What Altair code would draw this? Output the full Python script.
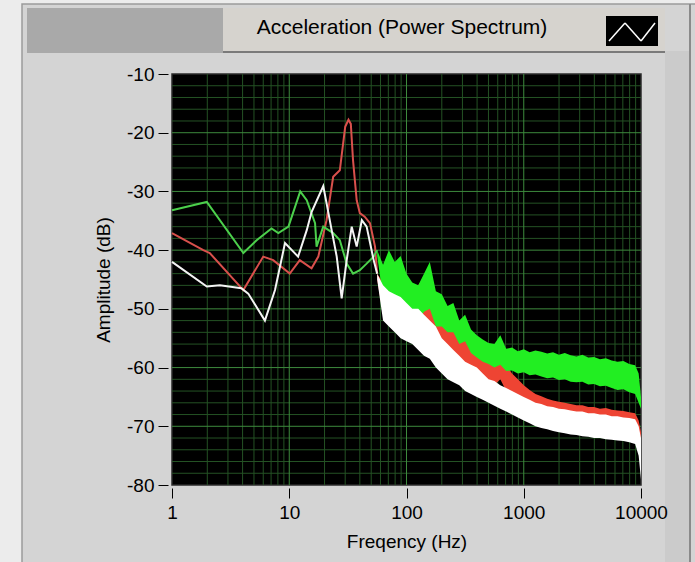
import altair as alt
import pandas as pd

# ---------------- data ----------------
# low-frequency part of each trace (Hz, dB)
green_f = [1, 1.98, 4.06, 5.27, 7.06, 8.07, 9.85, 12.4, 14.1, 16.6, 17.1, 19.5, 23.7, 27, 30.9, 35, 40, 45.7, 52.5, 56.2]
green_db = [-33.2, -31.8, -40.5, -38.3, -36.3, -37.1, -36.0, -30.0, -31.5, -35.4, -39.4, -36.0, -37.1, -38.3, -42.3, -44.0, -43.4, -42.3, -41.1, -40.0]

red_f = [1, 1.85, 2.1, 4.06, 6.0, 7.3, 10.1, 12.3, 15.5, 17.7, 20.8, 23.7, 27, 30, 32, 33.5, 35, 37.6, 40, 44, 48.8, 53.9, 56.2]
red_db = [-37.1, -40.0, -40.5, -46.8, -41.1, -41.7, -44.0, -41.7, -43.1, -41.1, -34.9, -27.5, -26.4, -19.0, -17.8, -18.5, -24.7, -31.5, -33.7, -34.3, -35.4, -39.4, -44.0]

white_f = [1, 1.98, 2.56, 3.9, 4.47, 6.2, 7.56, 9.2, 11.9, 14.1, 15.5, 19.5, 20.8, 23, 25.4, 28, 30.9, 34.1, 37.6, 41.6, 45.7, 52.5, 56.2]
white_db = [-42.0, -46.2, -46.0, -46.5, -47.4, -52.0, -46.8, -38.8, -41.1, -36.6, -33.5, -29.1, -32.0, -36.6, -41.1, -48.2, -41.7, -36.0, -39.4, -34.9, -36.0, -41.7, -44.0]

# high-frequency noisy part: upper / lower envelope of each band (dB)
band_f = [56.2, 63.1, 70.8, 79.4, 89.1, 100, 112, 126, 141, 158, 178, 200, 224, 251, 282,
          316, 355, 398, 447, 501, 562, 631, 708, 794, 891, 1000, 1122, 1259, 1413, 1585,
          1778, 1995, 2239, 2512, 2818, 3162, 3548, 3981, 4467, 5012, 5623, 6310, 7079, 7943,
          8913, 9550, 10000]

green_hi = [-40, -42.5, -40, -42, -41, -44, -45.5, -46, -44, -42, -47, -47.5, -49.5, -49, -52,
            -51, -53.5, -54.5, -55.2, -55.8, -56, -54.5, -56.8, -56.6, -57.2, -56.9, -57.4, -57.1, -57.3, -57.6,
            -57.4, -57.8, -57.5, -57.9, -58.1, -57.8, -58.3, -58.2, -58.6, -58.4, -58.8, -59, -58.9, -59.4,
            -59.6, -61, -65]
green_lo = [-41, -48, -47, -49, -48.5, -51, -51.5, -52, -50.5, -50, -53, -53, -54, -54, -56,
            -55.5, -57.5, -58.3, -59, -59.4, -60, -59.5, -60.6, -60.5, -61, -60.8, -61.3, -61.2, -61.5, -61.8,
            -61.7, -62.1, -62, -62.4, -62.5, -62.4, -62.9, -62.8, -63.2, -63.1, -63.5, -63.8, -63.7, -64.2,
            -64.5, -66, -67]

red_hi = [-44, -45.5, -45, -46.5, -46, -47, -46.5, -46, -44.5, -42.5, -48, -50, -51, -53, -52.5,
          -54, -55, -56, -57.5, -58, -57, -54.7, -59.5, -61, -62, -63, -63.8, -64.5, -64.9, -65.3,
          -65.6, -65.8, -66, -66.2, -66.4, -66.4, -66.7, -66.7, -67, -66.9, -67.2, -67.3, -67.4, -67.6,
          -67.8, -69, -71]
red_lo = [-45, -51, -52, -52, -53, -53, -54, -53, -52, -53, -55, -57, -58, -59, -60,
          -60, -61, -62, -62.5, -63, -63, -62, -64, -65, -65.5, -66, -67, -67.5, -68, -68,
          -68.5, -68.5, -69, -69, -69, -69, -69.5, -69.5, -69.5, -70, -70, -70, -70, -70,
          -70.5, -72, -74]

white_hi = [-44, -46, -47, -47.5, -48, -49, -50, -50, -51, -52, -53, -55, -56, -57, -58,
            -59, -59.5, -60, -61, -62, -62.3, -63, -63.5, -64, -64.5, -65, -65.5, -66, -66.2, -66.6,
            -66.7, -67, -67.1, -67.3, -67.5, -67.5, -67.8, -67.8, -68, -68, -68.3, -68.3, -68.5, -68.6,
            -68.8, -70, -72]
white_lo = [-45, -52, -53, -54, -55, -55.5, -56, -57, -58, -58.5, -60, -61, -62, -62.5, -63,
            -64, -64.5, -65, -65.5, -66, -66.5, -67, -67.5, -68, -68.5, -69, -69.5, -70, -70.3, -70.5,
            -70.8, -71, -71.2, -71.4, -71.5, -71.7, -71.8, -72, -72, -72.2, -72.3, -72.4, -72.5, -72.7,
            -73, -75, -79]

# grid and tick values
x_ticks = [1, 10, 100, 1000, 10000]
x_grid_major = [10, 100, 1000]
x_grid_minor = [2, 3, 4, 5, 6, 7, 8, 9, 20, 30, 40, 50, 60, 70, 80, 90,
                200, 300, 400, 500, 600, 700, 800, 900, 2000, 3000, 4000, 5000, 6000, 7000, 8000, 9000]
y_ticks = [-80, -70, -60, -50, -40, -30, -20, -10]
y_grid_major = [-70, -60, -50, -40, -30, -20]
y_grid_minor = [-78, -76, -74, -72, -68, -66, -64, -62, -58, -56, -54, -52, -48, -46, -44, -42,
                -38, -36, -34, -32, -28, -26, -24, -22, -18, -16, -14, -12]

# ---------------- chart ----------------
W, H = 469, 411
FONT = "Liberation Sans"
xs = alt.Scale(type="log", domain=[1, 10000], nice=False)
ys = alt.Scale(domain=[-80, -10], nice=False)


def line_df(f, d):
    return pd.DataFrame({"f": f, "db": d})


def band_df(hi, lo):
    return pd.DataFrame({"f": band_f, "db": hi, "lo": lo})


def vline(vals, color):
    return alt.Chart(pd.DataFrame({"f": vals})).mark_rule(color=color, strokeWidth=1).encode(
        x=alt.X("f:Q", scale=xs))


def hline(vals, color):
    return alt.Chart(pd.DataFrame({"db": vals})).mark_rule(color=color, strokeWidth=1).encode(
        y=alt.Y("db:Q", scale=ys))


minor_c = "#245224"
major_c = "#3d8a3d"

axes_layer = alt.Chart(pd.DataFrame({"f": [1, 10000], "db": [-80, -10]})).mark_point(opacity=0).encode(
    x=alt.X("f:Q", scale=xs, title="Freqency (Hz)", axis=alt.Axis(
        values=x_ticks, labelExpr="datum.value", grid=False, domain=False, tickSize=10, tickColor="black",
        offset=3, labelPadding=5, labelFontSize=19, labelFont=FONT, labelColor="black",
        titleFont=FONT, titleFontSize=19, titleFontWeight="normal", zindex=2,
        titleColor="black", titlePadding=10, labelFlush=False)),
    y=alt.Y("db:Q", scale=ys, title="Amplitude (dB)", axis=alt.Axis(
        values=y_ticks, labelExpr="datum.value", grid=False, domain=False, tickSize=10, tickColor="black",
        offset=4, labelPadding=4, labelFontSize=19, labelFont=FONT, labelColor="black",
        titleFont=FONT, titleFontSize=19, titleFontWeight="normal", zindex=2,
        titleColor="black", titlePadding=13)))


def trace_line(f, d, color):
    return alt.Chart(line_df(f, d)).mark_line(color=color, strokeWidth=2, interpolate="linear").encode(
        x=alt.X("f:Q", scale=xs), y=alt.Y("db:Q", scale=ys))


def trace_band(hi, lo, color):
    return alt.Chart(band_df(hi, lo)).mark_area(color=color, opacity=1, interpolate="linear").encode(
        x=alt.X("f:Q", scale=xs), y=alt.Y("db:Q", scale=ys), y2="lo:Q")


def rect(x1, x2, y1, y2, color, stroke=None):
    kw = {"color": color}
    if stroke is not None:
        kw["stroke"] = stroke
        kw["strokeWidth"] = 1.5
    return alt.Chart(pd.DataFrame({"a": [0]})).mark_rect(**kw).encode(
        x=alt.value(x1), x2=alt.value(x2), y=alt.value(y1), y2=alt.value(y2))


def seg(x1, y1, x2, y2, color, w=1.5):
    return alt.Chart(pd.DataFrame({"a": [0]})).mark_rule(color=color, strokeWidth=w).encode(
        x=alt.value(x1), x2=alt.value(x2), y=alt.value(y1), y2=alt.value(y2))


# decorations (pixel offsets relative to plot area origin at 172,74)
deco = [
    rect(-150, 530, -70, 495, "#d4d4d4", "#9a9a9a"),    # outer panel with frame
    rect(0, W, 0, H, "#000000", "#2a2a2a"),             # black plotting area
    rect(-145, 51, -66, -21, "#a9a9a9"),                # dark header block
    rect(51, 493, -66, -23, "#d6d3ce"),                 # legend box
    seg(51, -22, 493, -22, "#7a7a7a", 2),               # legend shadow
    rect(434, 486, -58, -28, "#000000"),                # legend icon
    seg(437, -33, 453, -51, "white", 1.5),
    seg(453, -51, 469, -33, "white", 1.5),
    seg(469, -33, 483, -51, "white", 1.5),
    rect(493, 518, -23, 495, "#cbcbcb"),                # right strip
    seg(518, -70, 518, 495, "#8a8a8a", 2),
]
legend_text = alt.Chart(pd.DataFrame({"t": ["Acceleration (Power Spectrum)"]})).mark_text(
    font=FONT, fontSize=21, color="black", align="center", baseline="middle").encode(
    x=alt.value(230), y=alt.value(-46), text="t:N")

layers = [axes_layer] + deco + [legend_text,
    vline(x_grid_minor, minor_c), hline(y_grid_minor, minor_c),
    vline(x_grid_major, major_c), hline(y_grid_major, major_c),
    trace_band(red_hi, red_lo, "#ee4433"), trace_line(red_f, red_db, "#d9504c"),
    trace_band(green_hi, green_lo, "#22ee22"), trace_line(green_f, green_db, "#4cd04c"),
    trace_band(white_hi, white_lo, "#ffffff"), trace_line(white_f, white_db, "#f4f4f4"),
]

chart = alt.layer(*layers).properties(
    width=W, height=H, background="#ececec",
    padding={"left": 172, "top": 74, "right": 54, "bottom": 77},
    autosize=alt.AutoSizeParams(type="none"),
).configure_view(fill="black", stroke="#2a2a2a", strokeWidth=1)

chart.save("out.html", embed_options={"renderer": "svg", "actions": False})
